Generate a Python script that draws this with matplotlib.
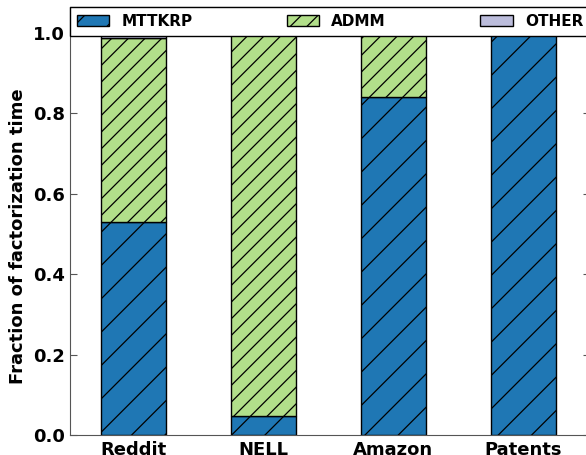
import matplotlib
matplotlib.use("Agg")
import matplotlib.pyplot as plt
import numpy as np

datasets = ["Reddit", "NELL", "Amazon", "Patents"]
mttkrp = [0.530, 0.048, 0.840, 0.995]
admm = [0.458, 0.947, 0.157, 0.003]
other = [0.012, 0.005, 0.003, 0.002]

plt.rcParams["font.family"] = "DejaVu Sans"
plt.rcParams["font.weight"] = "bold"
plt.rcParams["hatch.linewidth"] = 0.9

fig = plt.figure(figsize=(5.86, 4.55), dpi=100)
ax = fig.add_axes([70 / 586, 20 / 455, 520 / 586, 428 / 455])

x = np.arange(len(datasets))
w = 0.5
ax.bar(x, mttkrp, w, color="#1f77b4", edgecolor="black", hatch="/", linewidth=1, label="MTTKRP")
ax.bar(x, admm, w, bottom=mttkrp, color="#b2df8a", edgecolor="black", hatch="//", linewidth=1, label="ADMM")
bottom2 = np.array(mttkrp) + np.array(admm)
ax.bar(x, other, w, bottom=bottom2, color="#bcbddc", edgecolor="black", linewidth=1, label="OTHER")

ax.set_xlim(-0.485, 3.515)
ax.set_ylim(0, 1.065)
ax.set_xticks(x)
ax.set_xticklabels(datasets, fontsize=13, fontweight="bold")
ax.set_yticks([0, 0.2, 0.4, 0.6, 0.8, 1.0])
ax.set_yticklabels(["0.0", "0.2", "0.4", "0.6", "0.8", "1.0"], fontsize=13, fontweight="bold")
ax.tick_params(axis="y", direction="in", right=True, length=5, color="#555555")
ax.tick_params(axis="x", length=0, pad=4)
for s in ax.spines.values():
    s.set_color("#555555")
ax.set_ylabel("Fraction of factorization time", fontsize=13, fontweight="bold")
ax.yaxis.set_label_coords(-0.082, 0.465)

leg = ax.legend(loc="upper left", bbox_to_anchor=(0, 1, 1, 0), mode="expand", ncol=3,
                borderaxespad=0, fancybox=False, framealpha=1, edgecolor="black",
                prop={"weight": "bold", "size": 11}, handlelength=2.1, borderpad=0.45)
leg.get_frame().set_linewidth(1)

fig.savefig("out.png", dpi=100)
